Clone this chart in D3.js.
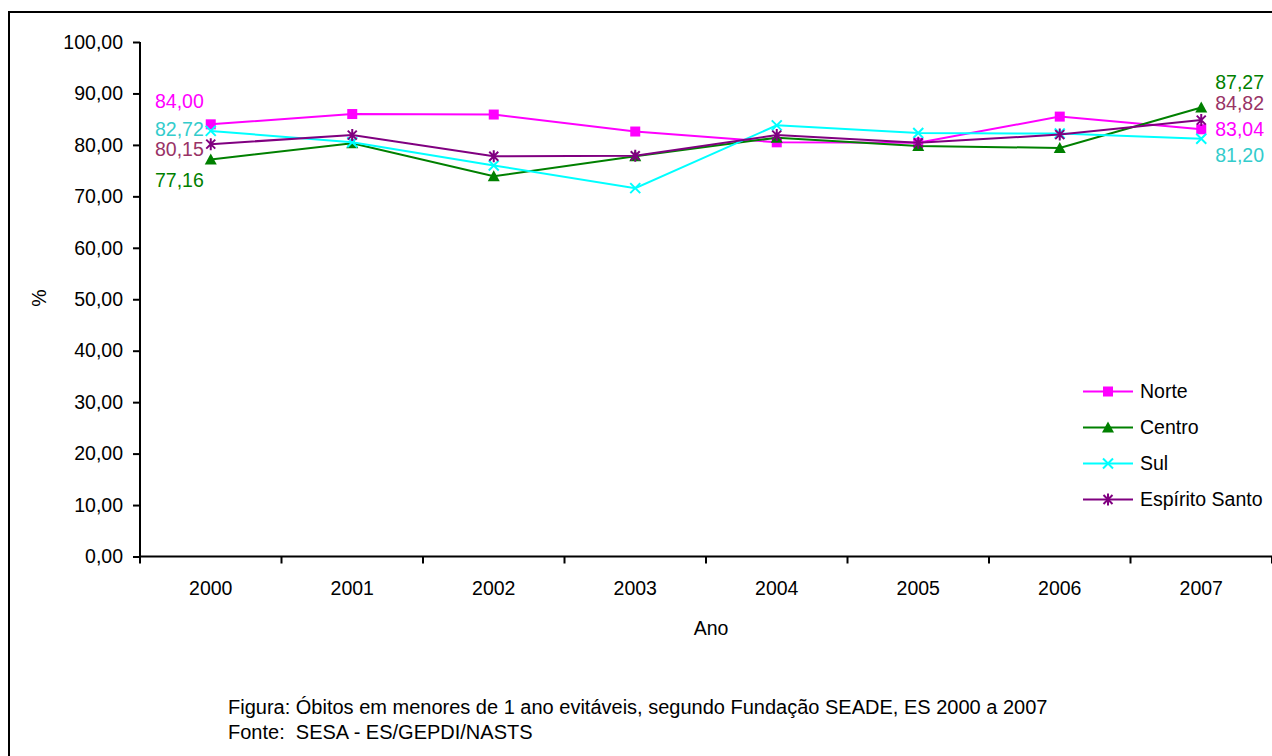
<!DOCTYPE html>
<html>
<head>
<meta charset="utf-8">
<script src="https://cdn.jsdelivr.net/npm/d3@7"></script>
<style>
  html, body { margin: 0; padding: 0; background: #fff; }
  svg { display: block; font-family: Arial, "Liberation Sans", sans-serif; }
</style>
</head>
<body>
<svg id="chart" width="1272" height="756"></svg>
<script>
// Anos (categorias do eixo X)
const years = ["2000", "2001", "2002", "2003", "2004", "2005", "2006", "2007"];

// Percentual de óbitos evitáveis por região
const norte  = [84.00, 86.0, 85.9, 82.6, 80.5, 80.4, 85.5, 83.04];
const centro = [77.16, 80.3, 73.9, 77.8, 81.4, 79.8, 79.4, 87.27];
const sul    = [82.72, 80.5, 76.0, 71.6, 83.8, 82.3, 82.2, 81.20];
const es     = [80.15, 81.9, 77.8, 77.9, 81.9, 80.4, 82.0, 84.82];

// Marcas do eixo Y
const yTicks = [0, 10, 20, 30, 40, 50, 60, 70, 80, 90, 100];

const seriesNames = ["Norte", "Centro", "Sul", "Espírito Santo"];
const seriesValues = [norte, centro, sul, es];

// Aparência de cada série
const styles = {
  "Norte":          { color: "#FF00FF", label: "#FF00FF", marker: "square" },
  "Centro":         { color: "#008000", label: "#008000", marker: "triangle" },
  "Sul":            { color: "#00FFFF", label: "#33CCCC", marker: "cross" },
  "Espírito Santo": { color: "#800080", label: "#993366", marker: "star" }
};

// Deslocamento vertical dos rótulos de valor (primeiro e último ano)
const labelShift = {
  "Norte":          { first: -23, last: 0 },
  "Centro":         { first: 21,  last: -25.5 },
  "Sul":            { first: -2,  last: 16 },
  "Espírito Santo": { first: 5,   last: -16.5 }
};

const fmt = v => d3.format(".2f")(v).replace(".", ",");
const FONT = 19.5;

const svg = d3.select("#chart");

// Moldura externa
svg.append("rect")
  .attr("x", 9).attr("y", 12)
  .attr("width", 1300).attr("height", 800)
  .attr("fill", "none").attr("stroke", "#000").attr("stroke-width", 2);

const plot = { left: 140, right: 1272, top: 42, bottom: 556.5 };

const x = d3.scaleBand().domain(years).range([plot.left, plot.right]);
const y = d3.scaleLinear().domain([0, 100]).range([plot.bottom, plot.top]);
const cx = d => x(d) + x.bandwidth() / 2;

// Eixo Y
const yAxis = d3.axisLeft(y)
  .tickValues(yTicks)
  .tickSize(7)
  .tickPadding(10)
  .tickFormat(fmt);
const gy = svg.append("g").attr("transform", `translate(${plot.left},0)`).call(yAxis);
gy.select(".domain").attr("stroke", "#000").attr("stroke-width", 2)
  .attr("d", `M0,${plot.top}V${plot.bottom}`);
gy.selectAll(".tick line").attr("stroke", "#000").attr("stroke-width", 2);
gy.selectAll(".tick text").attr("font-size", FONT).attr("fill", "#000")
  .attr("font-family", "Arial, 'Liberation Sans', sans-serif");

// Eixo X (marcas entre categorias)
const gx = svg.append("g").attr("transform", `translate(0,${plot.bottom})`);
gx.append("line")
  .attr("x1", plot.left).attr("x2", plot.right)
  .attr("stroke", "#000").attr("stroke-width", 2);
const boundaries = years.map(d => x(d)).concat([plot.right]);
gx.selectAll("line.tk").data(boundaries).join("line")
  .attr("class", "tk")
  .attr("x1", d => d).attr("x2", d => d)
  .attr("y1", 0).attr("y2", 7)
  .attr("stroke", "#000").attr("stroke-width", 2);
gx.selectAll("text").data(years).join("text")
  .attr("x", d => cx(d)).attr("y", 38)
  .attr("text-anchor", "middle")
  .attr("font-size", FONT).attr("fill", "#000")
  .text(d => d);

// Títulos dos eixos
svg.append("text")
  .attr("x", 711).attr("y", 635)
  .attr("text-anchor", "middle").attr("font-size", FONT)
  .text("Ano");
svg.append("text")
  .attr("transform", "translate(46,298) rotate(-90)")
  .attr("text-anchor", "middle").attr("font-size", FONT)
  .text("%");

// Símbolos dos marcadores
function drawMarker(g, type, color) {
  if (type === "square") {
    g.append("rect").attr("x", -5).attr("y", -5).attr("width", 10).attr("height", 10)
      .attr("fill", color);
  } else if (type === "triangle") {
    g.append("path").attr("d", "M0,-6L6,5H-6Z").attr("fill", color);
  } else if (type === "cross") {
    g.append("path").attr("d", "M-5,-5L5,5M-5,5L5,-5")
      .attr("stroke", color).attr("stroke-width", 2).attr("fill", "none");
  } else if (type === "star") {
    g.append("path").attr("d", "M-4.5,-4.5L4.5,4.5M-4.5,4.5L4.5,-4.5M0,-6V6")
      .attr("stroke", color).attr("stroke-width", 2).attr("fill", "none");
  }
}

const line = d3.line().x(d => cx(d.year)).y(d => y(d.value));

seriesNames.forEach((name, i) => {
  const st = styles[name];
  const pts = years.map((yr, j) => ({ year: yr, value: seriesValues[i][j] }));
  const g = svg.append("g");
  g.append("path").datum(pts)
    .attr("d", line)
    .attr("fill", "none")
    .attr("stroke", st.color)
    .attr("stroke-width", 2);
  pts.forEach(p => {
    const m = g.append("g").attr("transform", `translate(${cx(p.year)},${y(p.value)})`);
    drawMarker(m, st.marker, st.color);
  });

  // Rótulos de valor no primeiro e no último ano
  const first = pts[0], last = pts[pts.length - 1];
  g.append("text")
    .attr("x", cx(first.year) - 7)
    .attr("y", y(first.value) + labelShift[name].first)
    .attr("dy", "0.35em")
    .attr("text-anchor", "end")
    .attr("font-size", FONT)
    .attr("fill", st.label)
    .text(fmt(first.value));
  g.append("text")
    .attr("x", cx(last.year) + 14)
    .attr("y", y(last.value) + labelShift[name].last)
    .attr("dy", "0.35em")
    .attr("text-anchor", "start")
    .attr("font-size", FONT)
    .attr("fill", st.label)
    .text(fmt(last.value));
});

// Legenda
const legend = svg.append("g").attr("transform", "translate(1083,391.5)");
seriesNames.forEach((name, i) => {
  const st = styles[name];
  const row = legend.append("g").attr("transform", `translate(0,${i * 36})`);
  row.append("line").attr("x1", 0).attr("x2", 50)
    .attr("stroke", st.color).attr("stroke-width", 2);
  drawMarker(row.append("g").attr("transform", "translate(25,0)"), st.marker, st.color);
  row.append("text")
    .attr("x", 57).attr("dy", "0.35em")
    .attr("font-size", FONT).attr("fill", "#000")
    .text(name);
});

// Legenda da figura e fonte
svg.append("text")
  .attr("x", 228).attr("y", 714)
  .attr("font-size", 20).attr("fill", "#000")
  .text("Figura: Óbitos em menores de 1 ano evitáveis, segundo Fundação SEADE, ES 2000 a 2007");
svg.append("text")
  .attr("x", 228).attr("y", 739)
  .attr("font-size", 20).attr("fill", "#000")
  .attr("xml:space", "preserve")
  .text("Fonte:  SESA - ES/GEPDI/NASTS");
</script>
</body>
</html>
